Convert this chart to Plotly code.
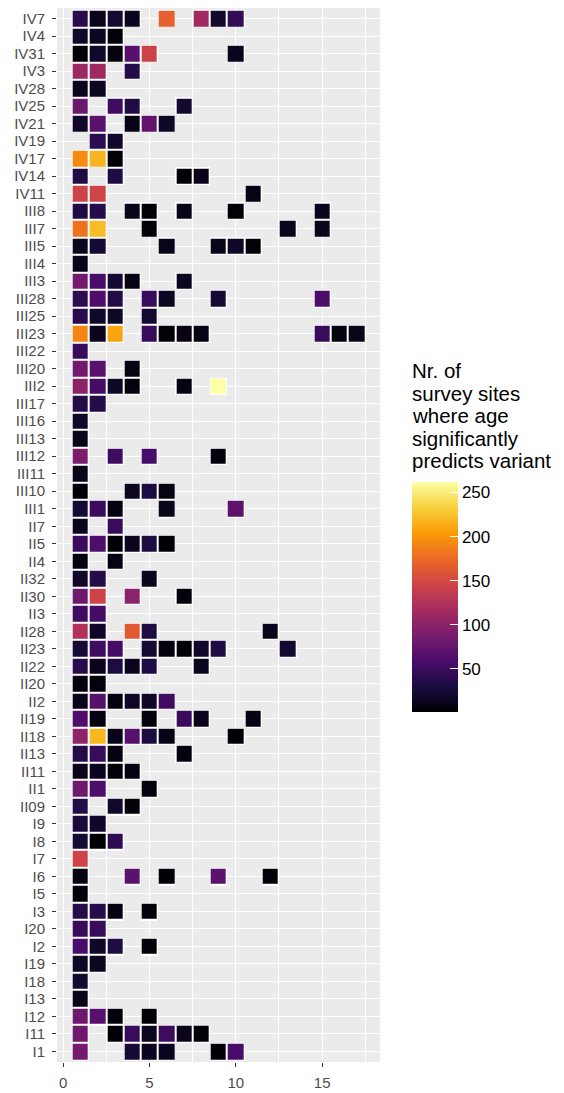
import plotly.graph_objects as go

rows = ["IV7", "IV4", "IV31", "IV3", "IV28", "IV25", "IV21", "IV19", "IV17", "IV14", "IV11",
        "III8", "III7", "III5", "III4", "III3", "III28", "III25", "III23", "III22", "III20", "III2",
        "III17", "III16", "III13", "III12", "III11", "III10", "III1",
        "II7", "II5", "II4", "II32", "II30", "II3", "II28", "II23", "II22", "II20", "II2", "II19",
        "II18", "II13", "II11", "II1", "II09",
        "I9", "I8", "I7", "I6", "I5", "I3", "I20", "I2", "I19", "I18", "I13", "I12", "I11", "I1"]

# counts per row: {column: number of survey sites}
counts = [
    {1: 39, 2: 11, 3: 22, 4: 13, 6: 168, 8: 114, 9: 20, 10: 44},     # IV7
    {1: 20, 2: 15, 3: 3},                                              # IV4
    {1: 2, 2: 20, 3: 5, 4: 67, 5: 143, 10: 13},                        # IV31
    {1: 111, 2: 113, 4: 35},                                           # IV3
    {1: 13, 2: 15},                                                    # IV28
    {1: 80, 3: 52, 4: 33, 7: 22},                                      # IV25
    {1: 19, 2: 69, 4: 9, 5: 75, 6: 17},                                # IV21
    {2: 42, 3: 20},                                                    # IV19
    {1: 195, 2: 218, 3: 3},                                            # IV17
    {1: 33, 3: 33, 7: 2, 8: 11},                                       # IV14
    {1: 143, 2: 146, 11: 8},                                           # IV11
    {1: 33, 2: 37, 4: 11, 5: 3, 7: 11, 10: 3, 15: 13},                 # III8
    {1: 180, 2: 221, 5: 3, 13: 12, 15: 12},                            # III7
    {1: 13, 2: 24, 6: 11, 9: 11, 10: 18, 11: 3},                       # III5
    {1: 11},                                                           # III4
    {1: 85, 2: 58, 3: 24, 4: 9, 7: 15},                                # III3
    {1: 42, 2: 62, 3: 35, 5: 47, 6: 15, 9: 24, 15: 60},                # III28
    {1: 39, 2: 20, 3: 17, 5: 24},                                      # III25
    {1: 192, 2: 13, 3: 209, 5: 47, 6: 3, 7: 8, 8: 9, 15: 47, 16: 5, 17: 11},  # III23
    {1: 47},                                                           # III22
    {1: 84, 2: 70, 4: 8},                                              # III20
    {1: 101, 2: 55, 3: 17, 4: 5, 7: 7, 9: 262},                        # III2
    {1: 35, 2: 35},                                                    # III17
    {1: 19},                                                           # III16
    {1: 12},                                                           # III13
    {1: 91, 3: 53, 5: 58, 9: 5},                                       # III12
    {1: 12},                                                           # III11
    {1: 1, 4: 15, 5: 30, 6: 8},                                        # III10
    {1: 24, 2: 50, 3: 7, 6: 12, 10: 71},                               # III1
    {1: 12, 3: 47},                                                    # II7
    {1: 50, 2: 62, 3: 2, 4: 14, 5: 33, 6: 2},                          # II5
    {1: 7, 3: 8},                                                      # II4
    {1: 19, 2: 35, 5: 14},                                             # II32
    {1: 82, 2: 145, 4: 100, 7: 4},                                     # II30
    {1: 53, 2: 55},                                                    # II3
    {1: 125, 2: 19, 4: 163, 5: 33, 12: 12},                            # II28
    {1: 24, 2: 53, 3: 55, 5: 24, 6: 5, 7: 2, 8: 20, 9: 33, 13: 22},    # II23
    {1: 37, 2: 11, 3: 31, 4: 12, 5: 33, 8: 14},                        # II22
    {1: 5, 2: 5},                                                      # II20
    {1: 12, 2: 67, 3: 5, 4: 18, 5: 18, 6: 53},                         # II2
    {1: 63, 2: 7, 5: 4, 7: 48, 8: 11, 11: 7},                          # II19
    {1: 102, 2: 219, 3: 11, 4: 67, 5: 31, 6: 10, 10: 3},               # II18
    {1: 35, 2: 48, 3: 7, 7: 5},                                        # II13
    {1: 12, 2: 14, 3: 3, 4: 7},                                        # II11
    {1: 82, 2: 61, 5: 5},                                              # II1
    {1: 34, 3: 20, 4: 4},                                              # II09
    {1: 27, 2: 19},                                                    # I9
    {1: 24, 2: 2, 3: 42},                                              # I8
    {1: 145},                                                          # I7
    {1: 8, 4: 69, 6: 2, 9: 69, 12: 3},                                 # I6
    {1: 3},                                                            # I5
    {1: 37, 2: 37, 3: 7, 5: 4},                                        # I3
    {1: 48, 2: 47},                                                    # I20
    {1: 58, 2: 18, 3: 31, 5: 4},                                       # I2
    {1: 17, 2: 15},                                                    # I19
    {1: 22},                                                           # I18
    {1: 12},                                                           # I13
    {1: 81, 2: 67, 3: 5, 5: 2},                                        # I12
    {1: 82, 3: 2, 4: 48, 5: 15, 6: 51, 7: 12, 8: 3},                   # I11
    {1: 85, 4: 24, 5: 14, 6: 14, 9: 2, 10: 58},                        # I1
]

columns = list(range(1, 18))
x_ticks = [0, 5, 10, 15]
cbar_ticks = [50, 100, 150, 200, 250]
legend_title_lines = ["Nr. of", "survey sites", "where age", "significantly", "predicts variant"]

z = [[c.get(k) for k in columns] for c in counts]
under = [[1 if c.get(k) is not None else None for k in columns] for c in counts]

FONT = "Liberation Sans, Arial, sans-serif"

fig = go.Figure()
# white tile outlines
fig.add_trace(go.Heatmap(
    x=columns, y=rows, z=under,
    colorscale=[[0, "white"], [1, "white"]],
    showscale=False, hoverinfo="skip",
))
fig.add_trace(go.Heatmap(
    x=columns, y=rows, z=z,
    colorscale="Inferno",
    xgap=2, ygap=2,
    colorbar=dict(
        x=1.0991, xanchor="left", xpad=0,
        y=0.4412, yanchor="middle", ypad=0,
        thickness=46, thicknessmode="pixels",
        len=230, lenmode="pixels",
        outlinewidth=0,
        tickvals=cbar_ticks,
        tickprefix="\u00a0",
        ticks="inside", ticklen=8, tickcolor="white", tickwidth=1,
        tickfont=dict(family=FONT, size=17, color="black"),
    ),
))

# legend title, one annotation per line (ggplot's tighter line height)
title_top = 0.6559
line_step = 22.5 / 1054
for i, line in enumerate(legend_title_lines):
    fig.add_annotation(
        text=line, xref="paper", yref="paper",
        x=1.0991, y=title_top - i * line_step, xanchor="left", yanchor="middle",
        xshift=-2, showarrow=False,
        font=dict(family=FONT, size=20.5, color="black"),
    )

fig.update_layout(
    width=556, height=1085,
    margin=dict(l=49, r=184, t=0, b=31, autoexpand=False),
    paper_bgcolor="white", plot_bgcolor="#ebebeb",
    font=dict(family=FONT),
    xaxis=dict(
        range=[-0.35, 18.35], tickvals=x_ticks, zeroline=False,
        showgrid=True, gridcolor="white", gridwidth=1.4,
        minor=dict(tickvals=[2.5, 7.5, 12.5, 17.5], showgrid=True, gridcolor="white", gridwidth=0.7),
        ticks="outside", ticklen=4, tickcolor="#333333", ticklabelstandoff=3,
        tickfont=dict(family=FONT, size=15, color="#4d4d4d"),
    ),
    yaxis=dict(
        type="category", categoryorder="array", categoryarray=rows,
        range=[len(rows) - 0.4, -0.6],
        tickmode="linear", tick0=0, dtick=1,
        showgrid=True, gridcolor="white", gridwidth=1.4,
        ticks="outside", ticklen=4, tickcolor="#333333", ticklabelstandoff=4,
        tickfont=dict(family=FONT, size=15, color="#4d4d4d"),
    ),
)

fig.write_html("out.html")
